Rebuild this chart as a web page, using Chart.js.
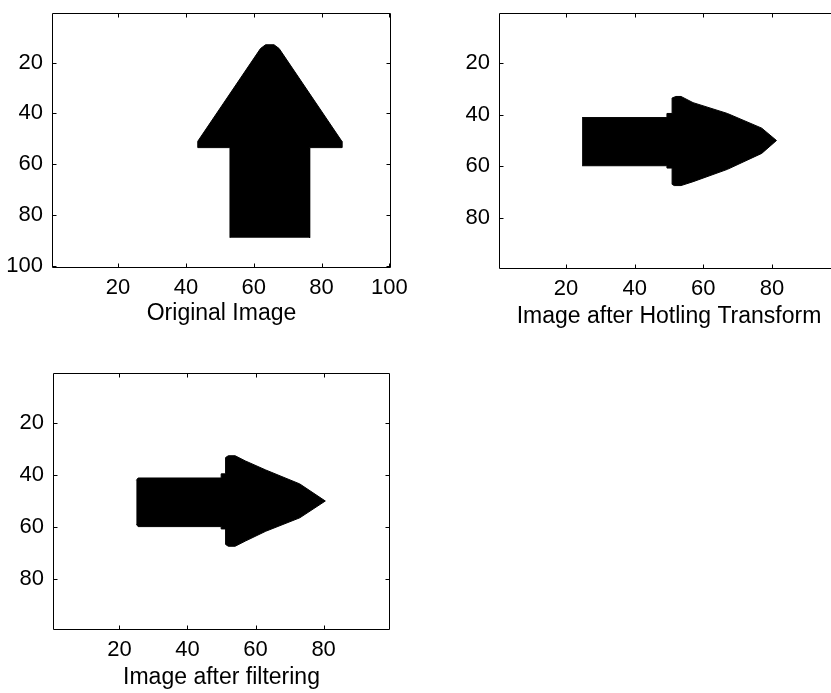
<!DOCTYPE html>
<html>
<head>
<meta charset="utf-8">
<script src="https://cdn.jsdelivr.net/npm/chart.js@4.4.1/dist/chart.umd.min.js"></script>
<style>
  html, body { margin: 0; padding: 0; background: #fff; width: 831px; height: 693px; overflow: hidden; }
  canvas { position: absolute; }
</style>
</head>
<body>
<canvas id="original" width="416" height="327" style="left:0;top:0"></canvas>
<canvas id="hotling" width="418" height="330" style="left:446px;top:0"></canvas>
<canvas id="filtered" width="415" height="331" style="left:0;top:360px"></canvas>
<script>
// outline of the arrow in each image (column, row)
const upArrowX = [53, 53, 43.5, 43.5, 62, 63.5, 66, 67.5, 86, 86, 76.5, 76.5];
const upArrowY = [89, 53.5, 53.5, 51, 14.5, 13, 13, 14.5, 51, 53.5, 53.5, 89];

const hotlingArrowX = [24.7, 49.4, 49.4, 50.9, 50.9, 52, 53.5, 57, 67, 77, 81.3, 77, 67, 57, 53.5, 51.5, 50.9, 50.9, 49.4, 49.4, 24.7];
const hotlingArrowY = [41.1, 41.1, 39.5, 39.5, 33.5, 32.9, 32.9, 35.3, 39.5, 45.2, 50, 55, 61.2, 66, 67.5, 67.5, 67, 60.7, 60.7, 59.8, 59.8];

const filteredArrowX = [25, 25.5, 49.9, 49.9, 51.2, 51.2, 52, 54, 57, 63, 73, 80.5, 73, 63, 57, 54, 52, 51.2, 51.2, 49.9, 49.9, 25.5, 25];
const filteredArrowY = [42, 41.1, 41.1, 39.5, 39.5, 33.2, 32.5, 32.5, 34.5, 38, 43.4, 50, 56.5, 61.7, 65.5, 67.5, 67.5, 66.8, 60.8, 60.8, 59.9, 59.9, 59];

const ticksOriginal = [20, 40, 60, 80, 100];
const ticksTransformed = [20, 40, 60, 80];

const tickFont = { family: "'Liberation Sans', Arial, sans-serif", size: 22 };
const labelFont = { family: "'Liberation Sans', Arial, sans-serif", size: 23 };

// box round the axes with small inward ticks on all sides
const frame = {
  id: 'frame',
  afterDraw(chart) {
    const { ctx, chartArea: a, scales } = chart;
    const l = Math.round(a.left) + 0.5, r = Math.round(a.right) - 0.5;
    const t = Math.round(a.top) + 0.5, b = Math.round(a.bottom) + 0.5;
    ctx.save();
    ctx.strokeStyle = '#000';
    ctx.lineWidth = 1;
    ctx.beginPath();
    ctx.rect(l, t, r - l, b - t);
    scales.x.ticks.forEach(tk => {
      const px = Math.round(scales.x.getPixelForValue(tk.value)) + 0.5;
      ctx.moveTo(px, b); ctx.lineTo(px, b - 4);
      ctx.moveTo(px, t); ctx.lineTo(px, t + 4);
    });
    scales.y.ticks.forEach(tk => {
      const py = Math.round(scales.y.getPixelForValue(tk.value)) + 0.5;
      ctx.moveTo(l, py); ctx.lineTo(l + 4, py);
      ctx.moveTo(r, py); ctx.lineTo(r - 4, py);
    });
    ctx.stroke();
    ctx.restore();
  }
};

function imagePlot(id, xs, ys, cfg) {
  const ctx = document.getElementById(id).getContext('2d');
  return new Chart(ctx, {
    type: 'scatter',
    data: {
      datasets: [{
        data: xs.map((x, i) => ({ x: x, y: ys[i] })),
        showLine: true,
        fill: 'shape',
        backgroundColor: '#000',
        borderColor: '#000',
        borderWidth: 1,
        pointRadius: 0,
        tension: 0
      }]
    },
    options: {
      responsive: false,
      animation: false,
      layout: { padding: { top: 13, right: 25, left: 0, bottom: 0 } },
      plugins: { legend: { display: false }, tooltip: { enabled: false } },
      scales: {
        x: {
          type: 'linear',
          min: 0.5,
          max: cfg.xMax,
          afterBuildTicks: s => { s.ticks = cfg.xTicks.map(v => ({ value: v })); },
          afterFit: s => { s.height = cfg.xHeight; s.paddingLeft = 0; s.paddingRight = 0; },
          grid: { display: false, drawTicks: false },
          border: { display: false },
          ticks: { autoSkip: false, maxRotation: 0, padding: 8, color: '#000', font: tickFont },
          title: { display: true, text: cfg.title, color: '#000', font: labelFont, padding: 0 }
        },
        y: {
          type: 'linear',
          reverse: true,
          min: 0.5,
          max: cfg.yMax,
          afterBuildTicks: s => { s.ticks = cfg.yTicks.map(v => ({ value: v })); },
          afterFit: s => { s.width = cfg.yWidth; s.paddingTop = 0; s.paddingBottom = 0; },
          grid: { display: false, drawTicks: false },
          border: { display: false },
          ticks: { autoSkip: false, padding: 9, color: '#000', font: tickFont }
        }
      }
    },
    plugins: [frame]
  });
}

imagePlot('original', upArrowX, upArrowY, {
  xMax: 100.5, yMax: 100.5, xTicks: ticksOriginal, yTicks: ticksOriginal,
  title: 'Original Image', yWidth: 52, xHeight: 60
});
imagePlot('hotling', hotlingArrowX, hotlingArrowY, {
  xMax: 99.5, yMax: 99.5, xTicks: ticksTransformed, yTicks: ticksTransformed,
  title: 'Image after Hotling Transform', yWidth: 53, xHeight: 62
});
imagePlot('filtered', filteredArrowX, filteredArrowY, {
  xMax: 99.5, yMax: 99.5, xTicks: ticksTransformed, yTicks: ticksTransformed,
  title: 'Image after filtering', yWidth: 53, xHeight: 62
});
</script>
</body>
</html>
